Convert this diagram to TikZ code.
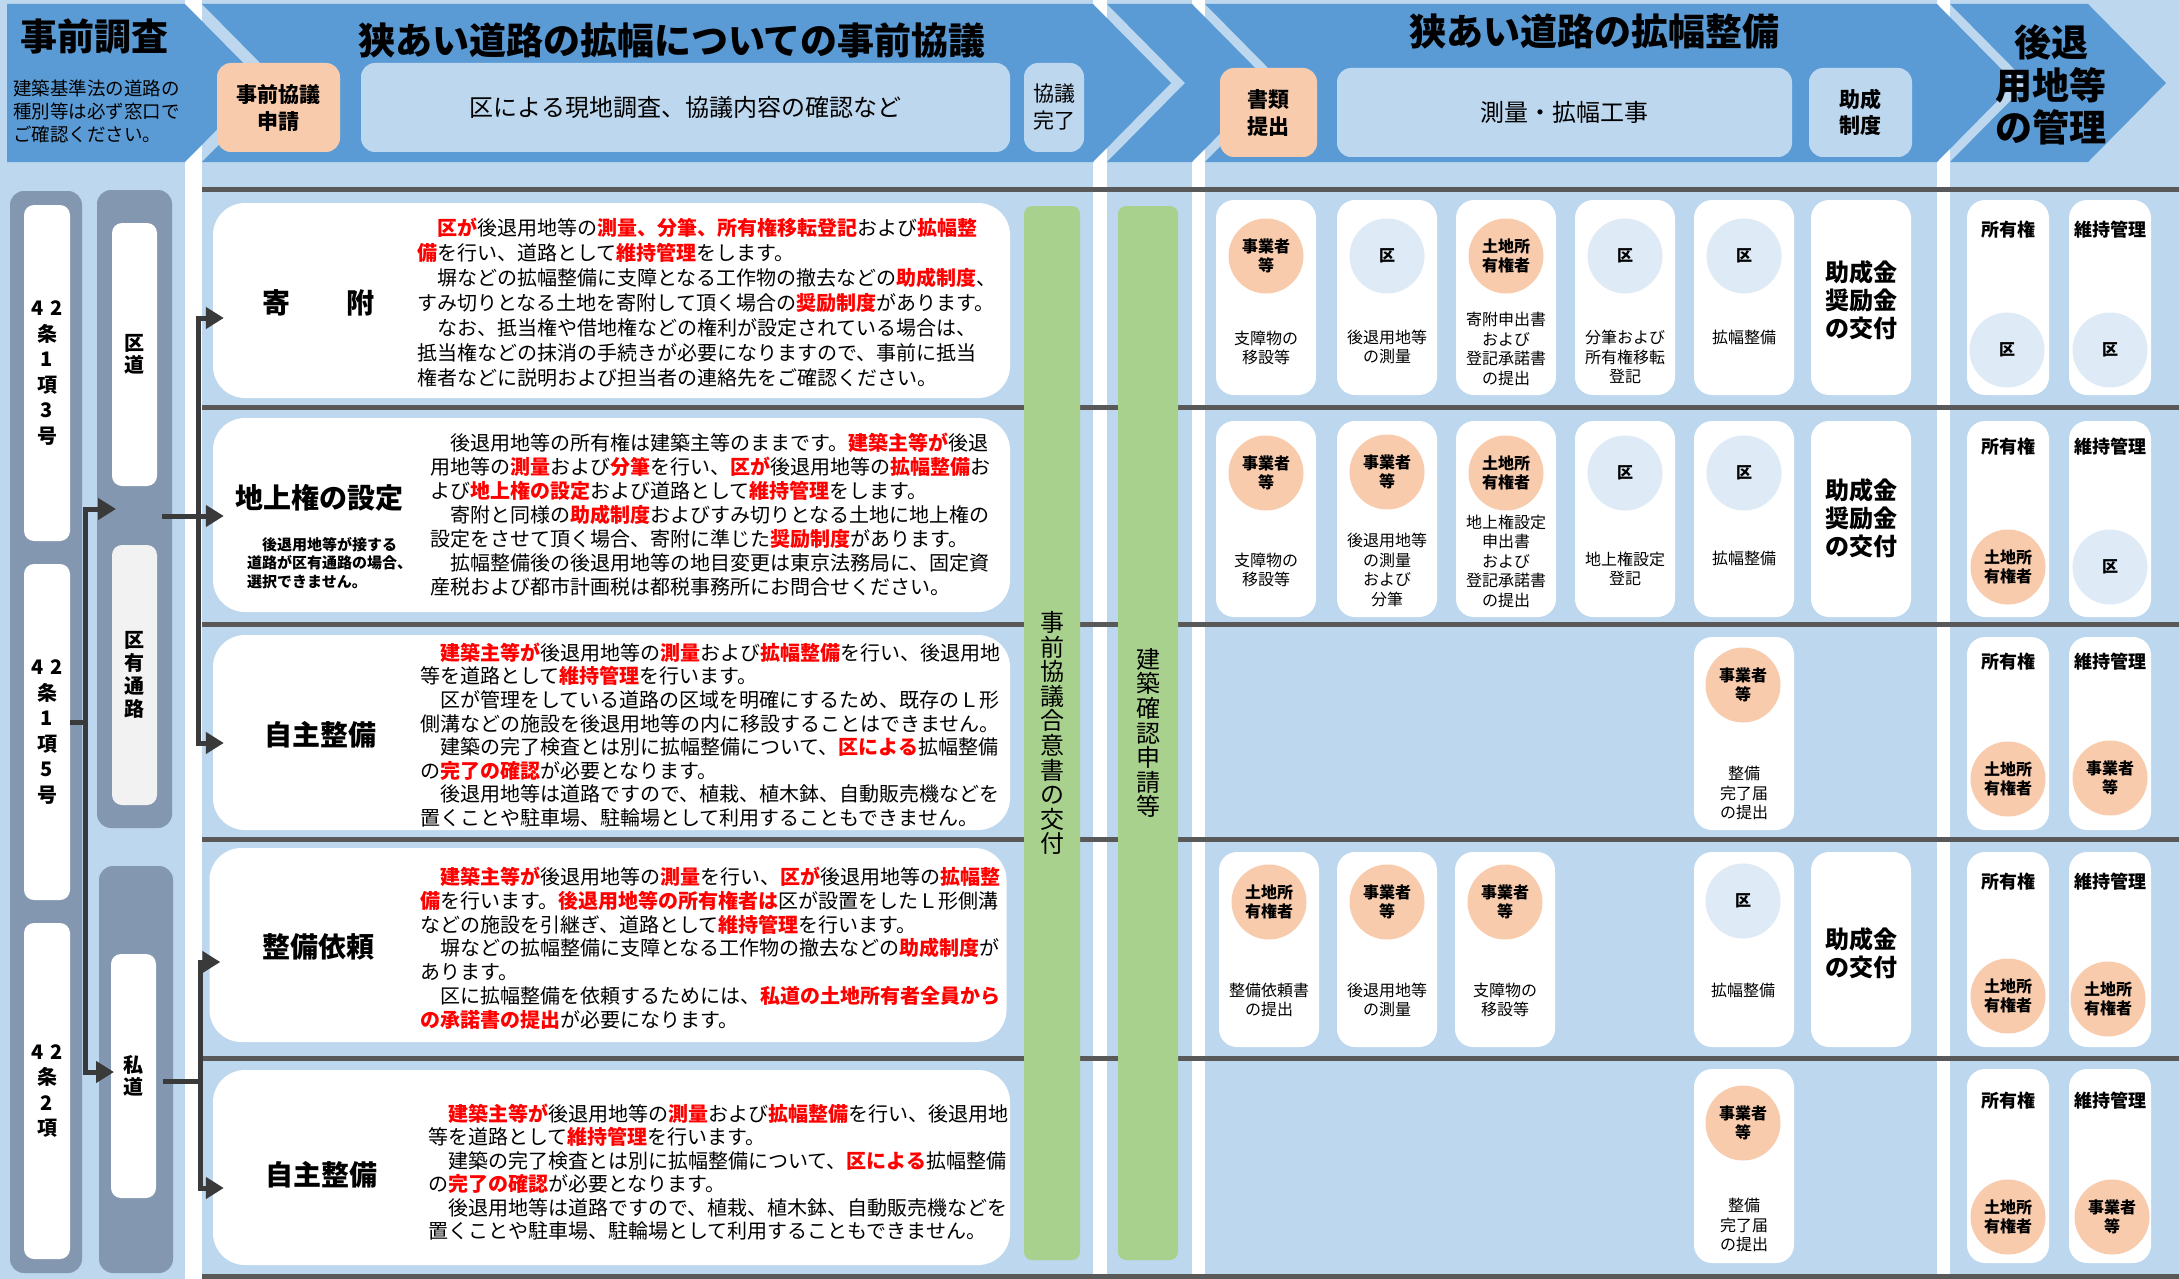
\documentclass[tikz,border=0pt]{standalone}
\usepackage{fontspec}
\setmainfont{Noto Sans CJK JP}
\usetikzlibrary{arrows.meta}
\definecolor{lb}{HTML}{BDD7EE}
\definecolor{hd}{HTML}{5B9BD5}
\definecolor{pch}{HTML}{F8CBAD}
\definecolor{lcir}{HTML}{DEEBF7}
\definecolor{gb}{HTML}{8497B0}
\definecolor{gl}{HTML}{595959}
\definecolor{cn}{HTML}{3A3A3A}
\definecolor{grn}{HTML}{A9D18E}
\definecolor{lgr}{HTML}{F2F2F2}
\newcommand{\fs}[2]{\fontsize{#1}{#2}\selectfont}
\newcommand{\rb}[1]{\textcolor{red}{\bfseries #1}}
\begin{document}
\begin{tikzpicture}[x=1pt,y=-1pt,
  hbox/.style={rectangle,rounded corners=14pt,fill=lb,inner sep=0pt,align=center},
  pbox/.style={rectangle,rounded corners=14pt,fill=pch,inner sep=0pt,align=center,font=\fs{21}{27}\bfseries},
  grp/.style={rectangle,rounded corners=14pt,fill=gb,inner sep=0pt},
  lbox/.style={rectangle,rounded corners=10pt,fill=white,inner sep=0pt,align=center,font=\fs{20}{25.5}\bfseries},
  rowbox/.style={rectangle,rounded corners=32pt,fill=white,inner sep=0pt,minimum width=797pt},
  ttl/.style={font=\fs{28}{32}\bfseries,inner sep=0pt},
  bodytxt/.style={align=left,inner sep=0pt,anchor=west},
  cellbox/.style={rectangle,rounded corners=18pt,fill=white,inner sep=0pt},
  pcirc/.style={circle,fill=pch,minimum size=75pt,inner sep=0pt,align=center,font=\fs{16}{18.5}\bfseries},
  lcirc/.style={circle,fill=lcir,minimum size=75pt,inner sep=0pt,align=center,font=\fs{16}{18.5}\bfseries},
  ctxt/.style={align=center,font=\fs{16}{19.5},inner sep=0pt},
  etxt/.style={font=\fs{18}{20}\bfseries,inner sep=0pt},
  gtxt/.style={align=center,font=\fs{24}{28}\bfseries,inner sep=0pt},
  barbox/.style={rectangle,rounded corners=8pt,fill=grn,inner sep=0pt,align=center,font=\fs{24}{24.6}},
  gline/.style={draw=gl,line width=5pt},
  conn/.style={draw=cn,line width=5pt},
  arr/.style={draw=cn,line width=5pt,-{Triangle[length=18pt,width=21pt]}}
]
\useasboundingbox (0,0) rectangle (2179,1279);
% background and column strips
\fill[lb] (0,0) rectangle (2179,1279);
\fill[white] (185,0) rectangle (202,1279);
\fill[white] (1093,0) rectangle (1107,1279);
\fill[white] (1192,0) rectangle (1205,1279);
\fill[white] (1937,0) rectangle (1950,1279);
% header chevrons
\fill[hd] (7,4) -- (185,4) -- (263,83) -- (185,162) -- (7,162) -- cycle;
\fill[hd] (202,4) -- (1093,4) -- (1171,83) -- (1093,162) -- (202,162) -- (280,83) -- cycle;
\fill[hd] (1107,4) -- (1192,4) -- (1270,83) -- (1192,162) -- (1107,162) -- (1185,83) -- cycle;
\fill[hd] (1205,4) -- (1937,4) -- (2015,83) -- (1937,162) -- (1205,162) -- (1283,83) -- cycle;
\fill[hd] (1950,4) -- (2088,4) -- (2166,83) -- (2088,162) -- (1950,162) -- (2028,83) -- cycle;
% header texts and boxes
\node[font=\fs{37}{40}\bfseries,inner sep=0pt] (hA) at (94,36) {事前調査};
\node[anchor=west,align=left,font=\fs{18.5}{23},inner sep=0pt] (hAs) at (13,111) {建築基準法の道路の\\種別等は必ず窓口で\\ご確認ください。};
\node[font=\fs{37}{40}\bfseries,inner sep=0pt] (hB) at (672,40) {狭あい道路の拡幅についての事前協議};
\node[pbox,minimum width=123pt,minimum height=89pt] (pb1) at (278.5,107.5) {事前協議\\申請};
\node[hbox,minimum width=649pt,minimum height=89pt,font=\fs{24}{28}] (hb1) at (685.5,107.5) {区による現地調査、協議内容の確認など};
\node[hbox,minimum width=60pt,minimum height=89pt,font=\fs{21}{27}] (hb2) at (1054,107.5) {協議\\完了};
\node[font=\fs{37}{40}\bfseries,inner sep=0pt] (hD) at (1594,32) {狭あい道路の拡幅整備};
\node[pbox,minimum width=97pt,minimum height=89pt] (pb2) at (1268.5,112.5) {書類\\提出};
\node[hbox,minimum width=455pt,minimum height=89pt,font=\fs{24}{28}] (hb3) at (1564.5,112.5) {測量・拡幅工事};
\node[hbox,minimum width=103pt,minimum height=89pt,font=\fs{21}{26}\bfseries] (hb4) at (1860.5,112.5) {助成\\制度};
\node[align=center,font=\fs{37}{42.5}\bfseries,inner sep=0pt] (hE) at (2051,85) {後退\\用地等\\の管理};
% row separator lines
\draw[gline] (202,189) -- (2179,189);
\draw[gline] (202,407) -- (2179,407);
\draw[gline] (202,624) -- (2179,624);
\draw[gline] (202,839) -- (2179,839);
\draw[gline] (202,1058) -- (2179,1058);
\draw[gline] (202,1276) -- (2179,1276);
% left column
\node[grp,minimum width=72pt,minimum height=1082pt] (g1) at (46,732) {};
\node[lbox,minimum width=46pt,minimum height=336pt] (b3) at (47,373) {4\,\,2\\条\\1\\項\\3\\号};
\node[lbox,minimum width=46pt,minimum height=336pt] (b5) at (47,732) {4\,\,2\\条\\1\\項\\5\\号};
\node[lbox,minimum width=46pt,minimum height=336pt] (b2) at (47,1091) {4\,\,2\\条\\2\\項};
\node[grp,minimum width=75pt,minimum height=638pt] (g2) at (134.5,509) {};
\node[lbox,minimum width=45pt,minimum height=263pt,font=\fs{20}{22}\bfseries] (kd) at (134.5,354.5) {区\\道};
\node[lbox,fill=lgr,minimum width=45pt,minimum height=260pt,font=\fs{20}{23}\bfseries] (ky) at (134.5,675) {区\\有\\通\\路};
\node[grp,minimum width=74pt,minimum height=407pt] (g3) at (136,1069.5) {};
\node[lbox,minimum width=45pt,minimum height=244pt,font=\fs{20}{22}\bfseries] (sd) at (133.5,1076) {私\\道};
% row boxes
\node[rowbox,minimum height=195pt] (r1) at (611.5,300.5) {};
\node[rowbox,minimum height=194pt] (r2) at (611.5,515) {};
\node[rowbox,minimum height=195pt] (r3) at (611.5,732.5) {};
\node[rowbox,minimum height=194pt] (r4) at (608,945) {};
\node[rowbox,minimum height=195pt] (r5) at (611.5,1167.5) {};
% row titles
\node[ttl] (t1) at (318,303) {寄　　附};
\node[ttl] (t2) at (319,498) {地上権の設定};
\node[bodytxt,font=\fs{15}{18.5}\bfseries] (t2n) at (247,563) {　後退用地等が接する\\道路が区有通路の場合、\\選択できません。};
\node[ttl] (t3) at (320,735) {自主整備};
\node[ttl] (t4) at (318,947) {整備依頼};
\node[ttl] (t5) at (321,1175) {自主整備};
% row body texts
\node[bodytxt,font=\fs{20}{25}] (x1) at (417,303) {%
　\rb{区が}後退用地等の\rb{測量、分筆、所有権移転登記}および\rb{拡幅整}\\
\rb{備}を行い、道路として\rb{維持管理}をします。\\
　塀などの拡幅整備に支障となる工作物の撤去などの\rb{助成制度}、\\
すみ切りとなる土地を寄附して頂く場合の\rb{奨励制度}があります。\\
　なお、抵当権や借地権などの権利が設定されている場合は、\\
抵当権などの抹消の手続きが必要になりますので、事前に抵当\\
権者などに説明および担当者の連絡先をご確認ください。};
\node[bodytxt,font=\fs{20}{24}] (x2) at (430,515) {%
　後退用地等の所有権は建築主等のままです。\rb{建築主等が}後退\\
用地等の\rb{測量}および\rb{分筆}を行い、\rb{区が}後退用地等の\rb{拡幅整備}お\\
よび\rb{地上権の設定}および道路として\rb{維持管理}をします。\\
　寄附と同様の\rb{助成制度}およびすみ切りとなる土地に地上権の\\
設定をさせて頂く場合、寄附に準じた\rb{奨励制度}があります。\\
　拡幅整備後の後退用地等の地目変更は東京法務局に、固定資\\
産税および都市計画税は都税事務所にお問合せください。};
\node[bodytxt,font=\fs{20}{23.6}] (x3) at (420,735) {%
　\rb{建築主等が}後退用地等の\rb{測量}および\rb{拡幅整備}を行い、後退用地\\
等を道路として\rb{維持管理}を行います。\\
　区が管理をしている道路の区域を明確にするため、既存のＬ形\\
側溝などの施設を後退用地等の内に移設することはできません。\\
　建築の完了検査とは別に拡幅整備について、\rb{区による}拡幅整備\\
の\rb{完了の確認}が必要となります。\\
　後退用地等は道路ですので、植栽、植木鉢、自動販売機などを\\
置くことや駐車場、駐輪場として利用することもできません。};
\node[bodytxt,font=\fs{20}{23.8}] (x4) at (420,948) {%
　\rb{建築主等が}後退用地等の\rb{測量}を行い、\rb{区が}後退用地等の\rb{拡幅整}\\
\rb{備}を行います。\rb{後退用地等の所有権者は}区が設置をしたＬ形側溝\\
などの施設を引継ぎ、道路として\rb{維持管理}を行います。\\
　塀などの拡幅整備に支障となる工作物の撤去などの\rb{助成制度}が\\
あります。\\
　区に拡幅整備を依頼するためには、\rb{私道の土地所有者全員から}\\
\rb{の承諾書の提出}が必要になります。};
\node[bodytxt,font=\fs{20}{23.4}] (x5) at (428,1172) {%
　\rb{建築主等が}後退用地等の\rb{測量}および\rb{拡幅整備}を行い、後退用地\\
等を道路として\rb{維持管理}を行います。\\
　建築の完了検査とは別に拡幅整備について、\rb{区による}拡幅整備\\
の\rb{完了の確認}が必要となります。\\
　後退用地等は道路ですので、植栽、植木鉢、自動販売機などを\\
置くことや駐車場、駐輪場として利用することもできません。};
% green bars
\node[barbox,minimum width=56pt,minimum height=1054pt] (bar1) at (1052,733) {事\\前\\協\\議\\合\\意\\書\\の\\交\\付};
\node[barbox,minimum width=60pt,minimum height=1054pt] (bar2) at (1148,733) {建\\築\\確\\認\\申\\請\\等};
% ---- row 1 cells
\node[cellbox,minimum width=100pt,minimum height=195pt] (c11) at (1266,297.5) {};
\node[pcirc] (c11a) at (1266,256) {事業者\\等};
\node[ctxt] (c11b) at (1266,348) {支障物の\\移設等};
\node[cellbox,minimum width=100pt,minimum height=195pt] (c12) at (1387,297.5) {};
\node[lcirc] (c12a) at (1387,256) {区};
\node[ctxt] (c12b) at (1387,347) {後退用地等\\の測量};
\node[cellbox,minimum width=100pt,minimum height=195pt] (c13) at (1506,297.5) {};
\node[pcirc] (c13a) at (1506,256) {土地所\\有権者};
\node[ctxt] (c13b) at (1506,349) {寄附申出書\\および\\登記承諾書\\の提出};
\node[cellbox,minimum width=100pt,minimum height=195pt] (c14) at (1625,297.5) {};
\node[lcirc] (c14a) at (1625,256) {区};
\node[ctxt] (c14b) at (1625,357) {分筆および\\所有権移転\\登記};
\node[cellbox,minimum width=100pt,minimum height=195pt] (c15) at (1744,297.5) {};
\node[lcirc] (c15a) at (1744,256) {区};
\node[ctxt] (c15b) at (1744,337) {拡幅整備};
\node[cellbox,minimum width=100pt,minimum height=195pt] (c16) at (1861,297.5) {};
\node[gtxt] (c16a) at (1861,300) {助成金\\奨励金\\の交付};
\node[cellbox,minimum width=82pt,minimum height=195pt] (e11) at (2008,297.5) {};
\node[etxt] (e11a) at (2008,230) {所有権};
\node[lcirc] (e11b) at (2007,350) {区};
\node[cellbox,minimum width=82pt,minimum height=195pt] (e12) at (2110,297.5) {};
\node[etxt] (e12a) at (2110,230) {維持管理};
\node[lcirc] (e12b) at (2110,350) {区};
% ---- row 2 cells
\node[cellbox,minimum width=100pt,minimum height=196pt] (c21) at (1266,519) {};
\node[pcirc] (c21a) at (1266,473) {事業者\\等};
\node[ctxt] (c21b) at (1266,570) {支障物の\\移設等};
\node[cellbox,minimum width=100pt,minimum height=196pt] (c22) at (1387,519) {};
\node[pcirc] (c22a) at (1387,472) {事業者\\等};
\node[ctxt] (c22b) at (1387,570) {後退用地等\\の測量\\および\\分筆};
\node[cellbox,minimum width=100pt,minimum height=196pt] (c23) at (1506,519) {};
\node[pcirc] (c23a) at (1506,473) {土地所\\有権者};
\node[ctxt] (c23b) at (1506,561) {地上権設定\\申出書\\および\\登記承諾書\\の提出};
\node[cellbox,minimum width=100pt,minimum height=196pt] (c24) at (1625,519) {};
\node[lcirc] (c24a) at (1625,473) {区};
\node[ctxt] (c24b) at (1625,569) {地上権設定\\登記};
\node[cellbox,minimum width=100pt,minimum height=196pt] (c25) at (1744,519) {};
\node[lcirc] (c25a) at (1744,473) {区};
\node[ctxt] (c25b) at (1744,558) {拡幅整備};
\node[cellbox,minimum width=100pt,minimum height=196pt] (c26) at (1861,519) {};
\node[gtxt] (c26a) at (1861,518) {助成金\\奨励金\\の交付};
\node[cellbox,minimum width=82pt,minimum height=196pt] (e21) at (2008,519) {};
\node[etxt] (e21a) at (2008,447) {所有権};
\node[pcirc] (e21b) at (2008,567) {土地所\\有権者};
\node[cellbox,minimum width=82pt,minimum height=196pt] (e22) at (2110,519) {};
\node[etxt] (e22a) at (2110,447) {維持管理};
\node[lcirc] (e22b) at (2110,567) {区};
% ---- row 3 cells
\node[cellbox,minimum width=100pt,minimum height=193pt] (c35) at (1744,733.5) {};
\node[pcirc] (c35a) at (1743,685) {事業者\\等};
\node[ctxt] (c35b) at (1744,793) {整備\\完了届\\の提出};
\node[cellbox,minimum width=82pt,minimum height=193pt] (e31) at (2008,733.5) {};
\node[etxt] (e31a) at (2008,662) {所有権};
\node[pcirc] (e31b) at (2008,779) {土地所\\有権者};
\node[cellbox,minimum width=82pt,minimum height=193pt] (e32) at (2110,733.5) {};
\node[etxt] (e32a) at (2110,662) {維持管理};
\node[pcirc] (e32b) at (2110,778) {事業者\\等};
% ---- row 4 cells
\node[cellbox,minimum width=100pt,minimum height=195pt] (c41) at (1269,949.5) {};
\node[pcirc] (c41a) at (1269,902) {土地所\\有権者};
\node[ctxt] (c41b) at (1269,1000) {整備依頼書\\の提出};
\node[cellbox,minimum width=100pt,minimum height=195pt] (c42) at (1387,949.5) {};
\node[pcirc] (c42a) at (1387,902) {事業者\\等};
\node[ctxt] (c42b) at (1387,1000) {後退用地等\\の測量};
\node[cellbox,minimum width=100pt,minimum height=195pt] (c43) at (1505,949.5) {};
\node[pcirc] (c43a) at (1505,902) {事業者\\等};
\node[ctxt] (c43b) at (1505,1000) {支障物の\\移設等};
\node[cellbox,minimum width=100pt,minimum height=195pt] (c45) at (1744,949.5) {};
\node[lcirc] (c45a) at (1743,901) {区};
\node[ctxt] (c45b) at (1743,990) {拡幅整備};
\node[cellbox,minimum width=100pt,minimum height=195pt] (c46) at (1861,949.5) {};
\node[gtxt] (c46a) at (1861,953) {助成金\\の交付};
\node[cellbox,minimum width=82pt,minimum height=195pt] (e41) at (2008,949.5) {};
\node[etxt] (e41a) at (2008,882) {所有権};
\node[pcirc] (e41b) at (2008,996) {土地所\\有権者};
\node[cellbox,minimum width=82pt,minimum height=195pt] (e42) at (2110,949.5) {};
\node[etxt] (e42a) at (2110,882) {維持管理};
\node[pcirc] (e42b) at (2108,999) {土地所\\有権者};
% ---- row 5 cells
\node[cellbox,minimum width=100pt,minimum height=194pt] (c55) at (1744,1166) {};
\node[pcirc] (c55a) at (1743,1123) {事業者\\等};
\node[ctxt] (c55b) at (1744,1225) {整備\\完了届\\の提出};
\node[cellbox,minimum width=82pt,minimum height=194pt] (e51) at (2008,1166) {};
\node[etxt] (e51a) at (2008,1101) {所有権};
\node[pcirc] (e51b) at (2008,1217) {土地所\\有権者};
\node[cellbox,minimum width=82pt,minimum height=194pt] (e52) at (2110,1166) {};
\node[etxt] (e52a) at (2110,1101) {維持管理};
\node[pcirc] (e52b) at (2112,1217) {事業者\\等};
% ---- connectors
\coordinate (j1) at (85,722);
\coordinate (a1) at (116,509);
\coordinate (a2) at (114,1072);
\draw[conn] ([yshift=10pt]b5.east) -- (j1);
\draw[arr] (j1) |- (a1);
\draw[arr] (j1) |- (a2);
\coordinate (k1) at (198,516);
\draw[conn] ([xshift=-10pt]g2.east |- k1) -- (k1);
\draw[arr] (k1) |- ([xshift=11pt,yshift=-17.5pt]r1.west);
\draw[arr] (k1) |- ([xshift=11pt,yshift=-1pt]r2.west);
\draw[arr] (k1) |- ([xshift=11pt,yshift=-10.5pt]r3.west);
\coordinate (p1) at (200,1081);
\draw[conn] ([xshift=-10pt]g3.east |- p1) -- (p1);
\draw[arr] (p1) |- ([xshift=11pt,yshift=-17pt]r4.west);
\draw[arr] (p1) |- ([xshift=11pt,yshift=-20.5pt]r5.west);
\end{tikzpicture}
\end{document}
